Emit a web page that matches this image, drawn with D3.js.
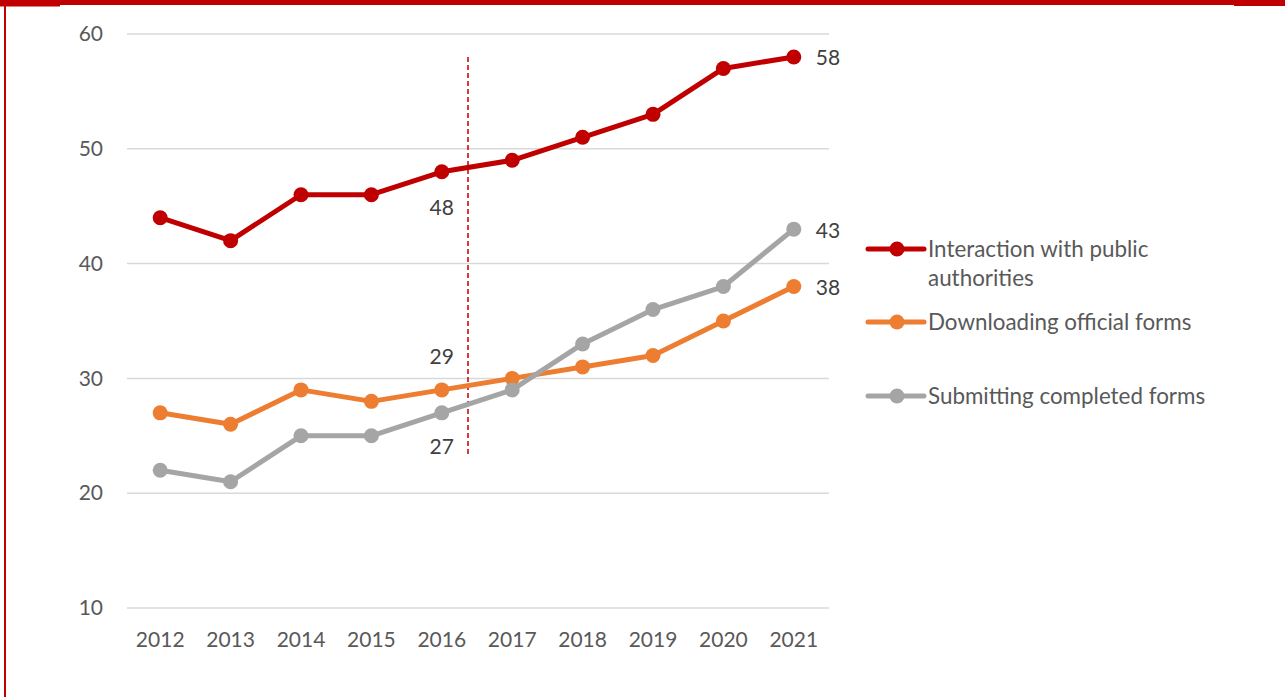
<!DOCTYPE html>
<html>
<head>
<meta charset="utf-8">
<script src="https://cdn.jsdelivr.net/npm/d3@7"></script>
<style>
  html, body { margin: 0; padding: 0; background: #fff; }
  svg { display: block; }
  text { font-family: Lato, "Open Sans", sans-serif; }
</style>
</head>
<body>
<svg id="chart" width="1285" height="697"></svg>
<script>
// Share of individuals using the internet for e-government activities
const years = ["2012", "2013", "2014", "2015", "2016", "2017", "2018", "2019", "2020", "2021"];
const interaction = [44, 42, 46, 46, 48, 49, 51, 53, 57, 58];
const downloading = [27, 26, 29, 28, 29, 30, 31, 32, 35, 38];
const submitting = [22, 21, 25, 25, 27, 29, 33, 36, 38, 43];
const yTicks = [10, 20, 30, 40, 50, 60];

const seriesNames = ["Interaction with public authorities", "Downloading official forms", "Submitting completed forms"];
const seriesValues = [interaction, downloading, submitting];
const seriesColors = ["#C00000", "#ED7D31", "#A5A5A5"];

const svg = d3.select("#chart");

// frame: red band at top and red rule on the left
svg.append("rect").attr("x", 0).attr("y", 0).attr("width", 1285).attr("height", 5).attr("fill", "#C00000");
svg.append("rect").attr("x", 0).attr("y", 0).attr("width", 60).attr("height", 6.5).attr("fill", "#C00000");
svg.append("rect").attr("x", 1234).attr("y", 0).attr("width", 51).attr("height", 6).attr("fill", "#C00000");
svg.append("rect").attr("x", 4).attr("y", 0).attr("width", 2).attr("height", 697).attr("fill", "#C00000");

const x = d3.scaleBand().domain(years).range([125, 829]);
const y = d3.scaleLinear().domain([10, 60]).range([608, 34]);
const cx = d => x(d) + x.bandwidth() / 2;

// horizontal gridlines
svg.append("g").selectAll("line").data(yTicks).join("line")
  .attr("x1", 127).attr("x2", 829)
  .attr("y1", d => y(d)).attr("y2", d => y(d))
  .attr("stroke", "#D9D9D9").attr("stroke-width", 1.5);

// y axis labels
const yAxis = svg.append("g").attr("transform", "translate(103,0)")
  .call(d3.axisLeft(y).tickValues(yTicks).tickSize(0).tickPadding(0));
yAxis.select(".domain").remove();
yAxis.selectAll("text").attr("fill", "#595959").style("font-size", "21px")
  .style("font-family", "Lato, 'Open Sans', sans-serif");

// x axis labels
const xAxis = svg.append("g").attr("transform", "translate(0,632)")
  .call(d3.axisBottom(x).tickSize(0).tickPadding(0));
xAxis.select(".domain").remove();
xAxis.selectAll("text").attr("fill", "#595959").style("font-size", "21px")
  .style("font-family", "Lato, 'Open Sans', sans-serif");

// dashed marker between 2016 and 2017
svg.append("line")
  .attr("x1", 468).attr("x2", 468).attr("y1", 57).attr("y2", 455)
  .attr("stroke", "#C00000").attr("stroke-width", 1.5).attr("stroke-dasharray", "5,3");

// series lines and markers
const line = d3.line().x((d, i) => cx(years[i])).y(d => y(d));
seriesValues.forEach((vals, s) => {
  const g = svg.append("g");
  g.append("path").datum(vals).attr("d", line)
    .attr("fill", "none").attr("stroke", seriesColors[s]).attr("stroke-width", 5)
    .attr("stroke-linejoin", "round");
  g.selectAll("circle").data(vals).join("circle")
    .attr("cx", (d, i) => cx(years[i])).attr("cy", d => y(d)).attr("r", 7.5)
    .attr("fill", seriesColors[s]);
});

// value labels
const labels = [
  { s: 0, i: 9, dx: 22, dy: 1 },
  { s: 2, i: 9, dx: 22, dy: 1 },
  { s: 1, i: 9, dx: 22, dy: 1 },
  { s: 0, i: 4, dx: 0, dy: 36 },
  { s: 1, i: 4, dx: 0, dy: -33 },
  { s: 2, i: 4, dx: 0, dy: 34 }
];
svg.append("g").selectAll("text").data(labels).join("text")
  .attr("x", d => cx(years[d.i]) + d.dx)
  .attr("y", d => y(seriesValues[d.s][d.i]) + d.dy)
  .attr("dy", "0.35em")
  .attr("text-anchor", d => d.dx > 0 ? "start" : "middle")
  .attr("fill", "#404040").style("font-size", "21px")
  .text(d => seriesValues[d.s][d.i]);

// legend
const legendItems = [
  { s: 0, y: 249, lines: ["Interaction with public", "authorities"] },
  { s: 1, y: 322, lines: ["Downloading official forms"] },
  { s: 2, y: 396, lines: ["Submitting completed forms"] }
];
const lg = svg.append("g").selectAll("g").data(legendItems).join("g")
  .attr("transform", d => `translate(0,${d.y})`);
lg.append("line").attr("x1", 868).attr("x2", 924).attr("y1", 0).attr("y2", 0)
  .attr("stroke", d => seriesColors[d.s]).attr("stroke-width", 5).attr("stroke-linecap", "round");
lg.append("circle").attr("cx", 897).attr("cy", 0).attr("r", 7.5).attr("fill", d => seriesColors[d.s]);
lg.append("text").attr("x", 928).attr("y", 0)
  .attr("fill", "#595959").style("font-size", "22.4px")
  .selectAll("tspan").data(d => d.lines).join("tspan")
  .attr("x", 928).attr("dy", (d, i) => i === 0 ? "0.35em" : "1.32em")
  .text(d => d);
</script>
</body>
</html>
